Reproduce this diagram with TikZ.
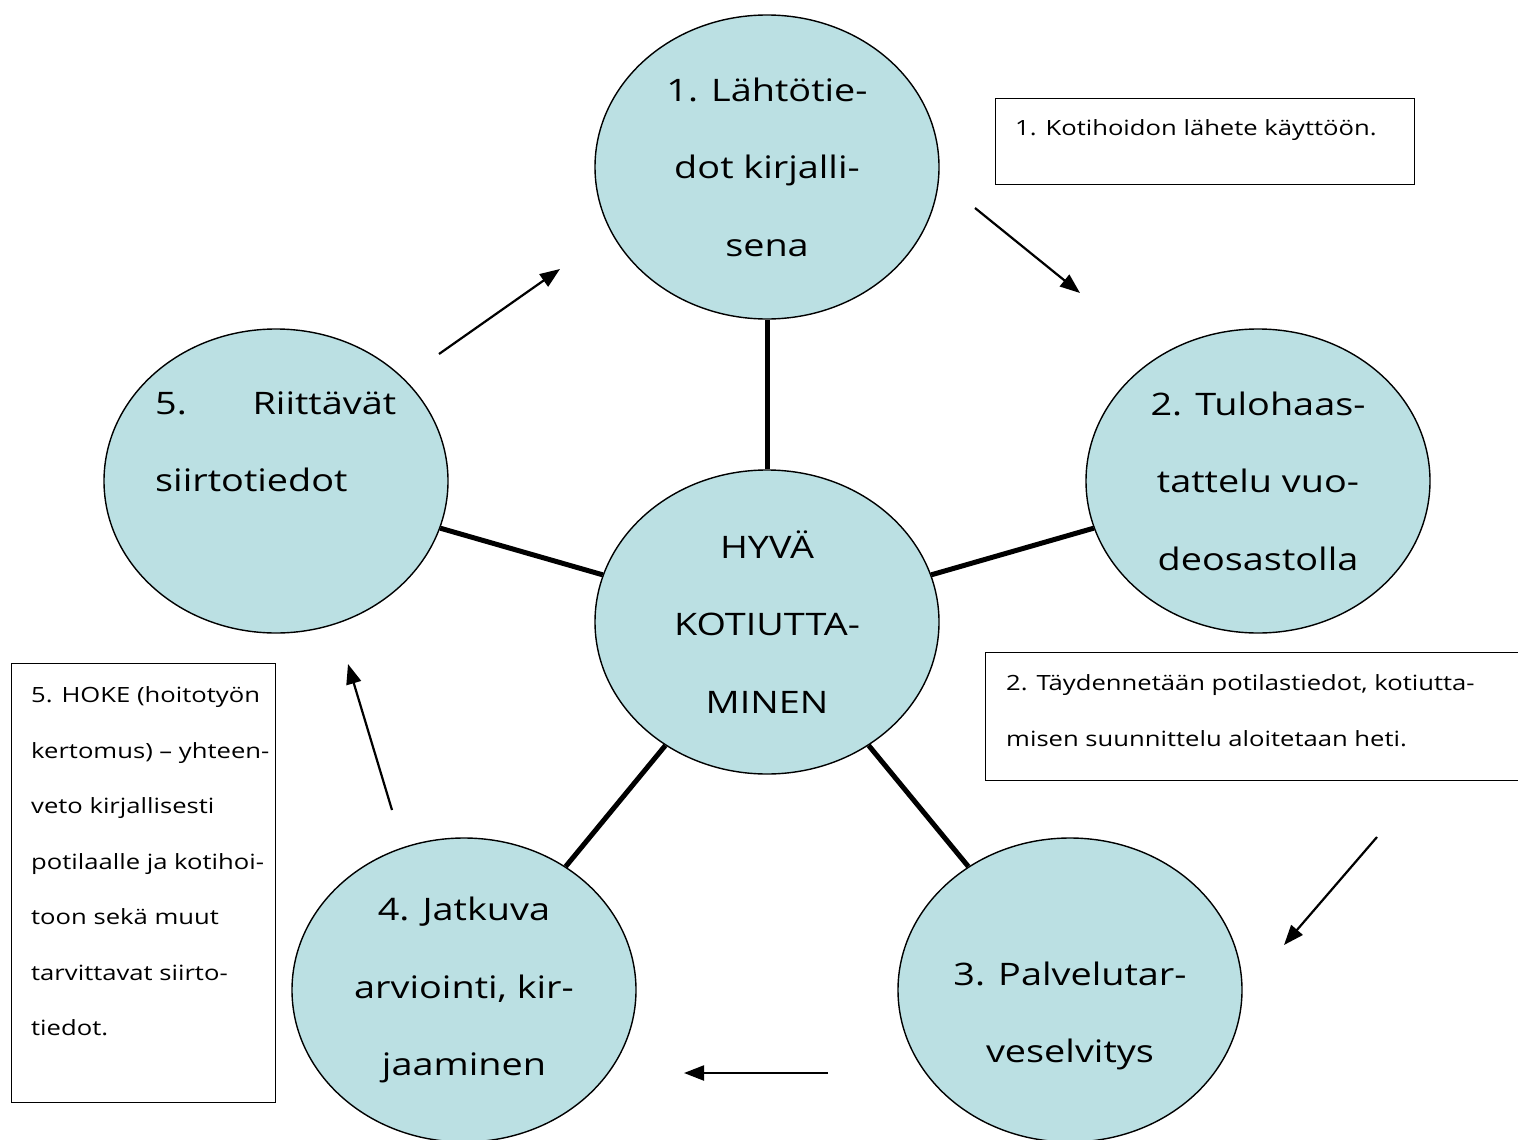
\documentclass[tikz,border=0pt]{standalone}
\usepackage{fontspec}
\setmainfont[FakeStretch=1.22]{Open Sans}
\usetikzlibrary{shapes.geometric,arrows.meta}
\definecolor{bub}{RGB}{187,224,227}
\begin{document}
\begin{tikzpicture}[x=1pt,y=-1pt,
  bubble/.style={ellipse,draw=black,line width=1.4pt,fill=bub,minimum width=344pt,minimum height=304pt,inner sep=0pt},
  spoke/.style={line width=5pt},
  flow/.style={line width=2.2pt,-{Triangle[length=20pt,width=15pt]}},
  big/.style={font=\fontsize{31}{77.5}\selectfont,inner sep=0pt},
  small/.style={font=\fontsize{21}{55.5}\selectfont,inner sep=0pt,align=left,anchor=west},
  boxframe/.style={draw=black,line width=1.4pt}]
\useasboundingbox (0,0) rectangle (1518,1140);
% bubbles
\node[bubble] (top) at (767,167) {};
\node[bubble] (mid) at (767,622) {};
\node[bubble] (right) at (1258,481) {};
\node[bubble] (left) at (276,481) {};
\node[bubble] (bl) at (464,990) {};
\node[bubble] (br) at (1070,990) {};
% spokes
\draw[spoke] (mid) -- (top);
\draw[spoke] (mid) -- (right);
\draw[spoke] (mid) -- (left);
\draw[spoke] (mid) -- (bl);
\draw[spoke] (mid) -- (br);
% bubble texts
\node[big,align=center] (ttop) at (767,167) {1. Lähtötie-\\dot kirjalli-\\sena};
\node[big,align=center] (tmid) at (767,622) {HYVÄ\\KOTIUTTA-\\MINEN};
\node[big,align=center] (tright) at (1258,481) {2. Tulohaas-\\tattelu vuo-\\deosastolla};
\node[big,align=left,anchor=west] (tleft) at (155,442) {\makebox[241pt][s]{5.\hfill Riittävät}\\siirtotiedot};
\node[big,align=center] (tbl) at (464,990) {4. Jatkuva\\arviointi, kir-\\jaaminen};
\node[big,align=center] (tbr) at (1070,1016) {3. Palvelutar-\\veselvitys};
% boxes
\node[boxframe,minimum width=419pt,minimum height=86pt,anchor=north west] (box1) at (995,98) {};
\node[small] (tbox1) at (1015,130) {1. Kotihoidon lähete käyttöön.};
\node[boxframe,minimum width=540pt,minimum height=128pt,anchor=north west] (box2) at (985,652) {};
\node[small] (tbox2) at (1006,710.5) {2. Täydennetään potilastiedot, kotiutta-\\misen suunnittelu aloitetaan heti.};
\node[boxframe,minimum width=264pt,minimum height=439pt,anchor=north west] (box5) at (11,663) {};
\node[small] (tbox5) at (31,861.5) {5. HOKE (hoitotyön\\kertomus) -- yhteen-\\veto kirjallisesti\\potilaalle ja kotihoi-\\toon sekä muut\\tarvittavat siirto-\\tiedot.};
% flow arrows
\coordinate (a1s) at (975,208); \coordinate (a1e) at (1080,293);
\coordinate (a2s) at (1377,837); \coordinate (a2e) at (1284,945);
\coordinate (a3s) at (828,1073); \coordinate (a3e) at (684,1073);
\coordinate (a4s) at (392,810); \coordinate (a4e) at (348,664);
\coordinate (a5s) at (439,354); \coordinate (a5e) at (560,269);
\draw[flow] (a1s) -- (a1e);
\draw[flow] (a2s) -- (a2e);
\draw[flow] (a3s) -- (a3e);
\draw[flow] (a4s) -- (a4e);
\draw[flow] (a5s) -- (a5e);
\end{tikzpicture}
\end{document}
